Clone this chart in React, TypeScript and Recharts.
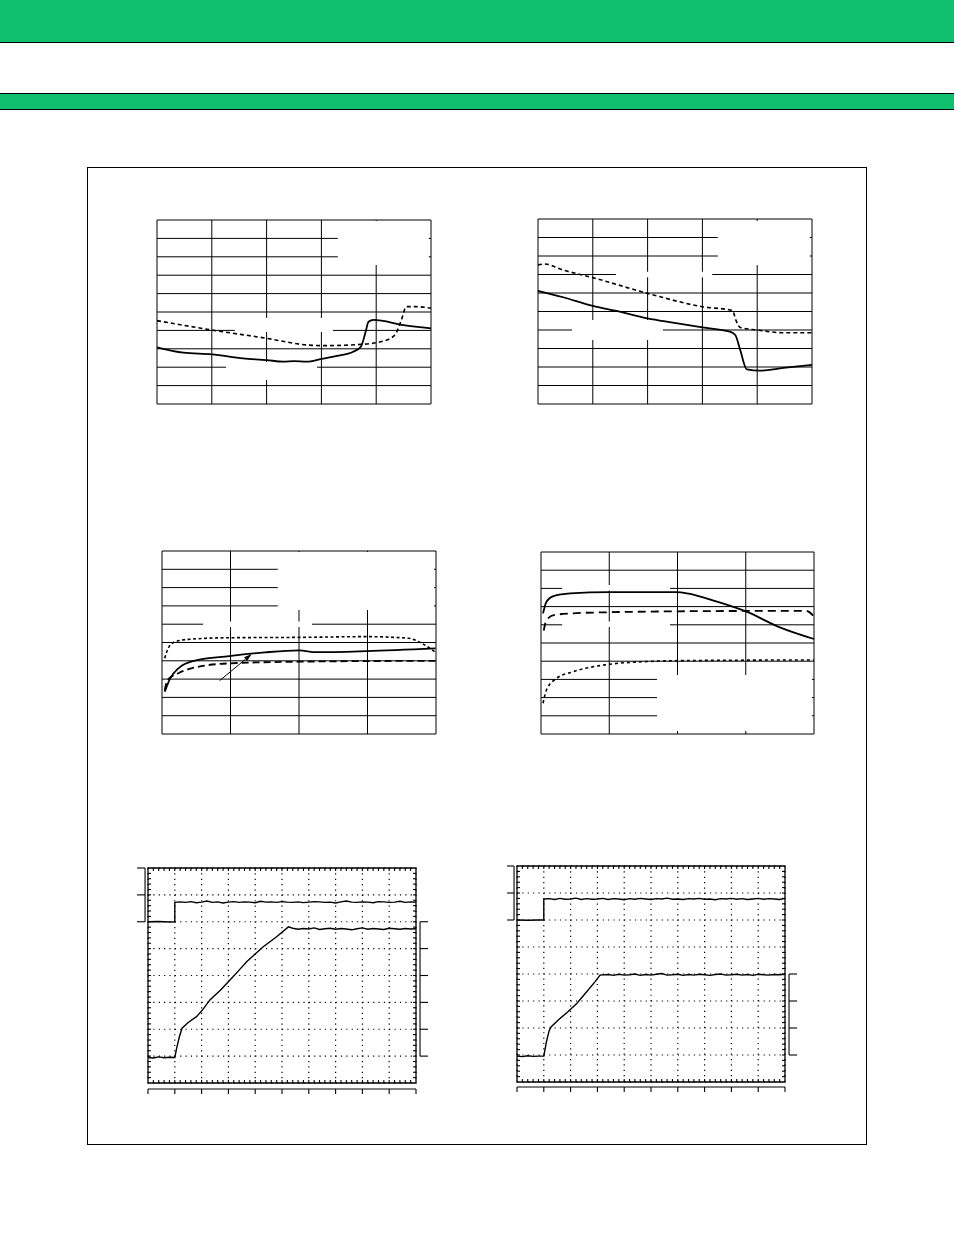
import React from 'react';
import { ComposedChart, Line, XAxis, YAxis, CartesianGrid, ReferenceArea, ReferenceLine } from 'recharts';

type Pt = { x: number; y: number };
const zip = (xs: number[], ys: number[]): Pt[] => xs.map((x, i) => ({ x, y: ys[i] }));
// scope samples are taken on a fixed 0.2 div clock
const sampled = (t0: number, values: number[]): Pt[] => values.map((y, i) => ({ x: t0 + i * 0.2, y }));

// ---- chart 1 (top left) ----
const c1SolidX = [0, 0.48, 1.0, 1.57, 2.0, 2.31, 2.5, 2.73, 3.0, 3.28, 3.58, 3.72, 3.8, 3.86, 3.95, 4.5, 5.0];
const c1SolidY = [3.08, 2.79, 2.7, 2.48, 2.39, 2.3, 2.33, 2.3, 2.45, 2.61, 2.84, 3.11, 3.84, 4.47, 4.57, 4.29, 4.11];
const c1DotX = [0, 1.0, 2.0, 2.73, 3.0, 3.72, 4.13, 4.34, 4.46, 4.55, 4.73, 5.0];
const c1DotY = [4.53, 4.02, 3.57, 3.21, 3.17, 3.24, 3.42, 3.75, 4.57, 5.29, 5.29, 5.2];

// ---- chart 2 (top right) ----
const c2SolidX = [0, 0.46, 1.0, 1.49, 2.0, 2.46, 3.0, 3.5, 3.6, 3.69, 3.81, 4.05, 4.48, 5.0];
const c2SolidY = [6.12, 5.77, 5.3, 4.99, 4.63, 4.4, 4.14, 3.91, 3.73, 2.92, 1.87, 1.8, 1.95, 2.11];
const c2DotX = [0, 0.12, 0.46, 1.0, 2.0, 3.0, 3.55, 3.61, 3.69, 4.0, 4.48, 5.0];
const c2DotY = [7.51, 7.57, 7.24, 6.83, 5.98, 5.26, 5.05, 4.54, 4.14, 4.0, 3.85, 3.85];

// ---- chart 3 (middle left) ----
const c3DotX = [0.04, 0.09, 0.19, 0.38, 0.98, 1.99, 2.99, 3.6, 3.79, 3.98];
const c3DotY = [4.14, 4.68, 5.04, 5.17, 5.26, 5.28, 5.32, 5.23, 4.96, 4.5];
const c3SolidX = [0.04, 0.12, 0.24, 0.48, 0.98, 1.5, 2.0, 2.25, 2.99, 3.99];
const c3SolidY = [2.31, 3.04, 3.59, 4.01, 4.26, 4.46, 4.57, 4.47, 4.53, 4.68];
const c3DashX = [0.04, 0.08, 0.24, 0.43, 0.98, 1.99, 3.99];
const c3DashY = [2.4, 2.95, 3.32, 3.59, 3.86, 3.95, 4.0];

// ---- chart 4 (middle right) ----
const c4SolidX = [0.03, 0.08, 0.18, 0.43, 1.0, 2.0, 2.14, 2.58, 3.01, 3.5, 4.0];
const c4SolidY = [6.63, 7.27, 7.58, 7.73, 7.79, 7.79, 7.73, 7.27, 6.72, 5.86, 5.22];
const c4DashX = [0.04, 0.08, 0.2, 0.47, 1.0, 2.0, 3.01, 3.89, 4.0];
const c4DashY = [5.68, 6.26, 6.54, 6.63, 6.69, 6.74, 6.76, 6.76, 6.45];
const c4DotX = [0.03, 0.08, 0.23, 0.47, 1.0, 1.5, 2.0, 4.0];
const c4DotY = [1.69, 2.42, 3.06, 3.42, 3.83, 3.97, 4.03, 4.07];

// ---- scope 1 (bottom left) ----
const s1Ch1Edge: Pt[] = [{ x: 0, y: 6.0 }, { x: 0.4, y: 6.01 }, { x: 0.8, y: 5.99 }, { x: 1.0, y: 6.0 }, { x: 1.0, y: 6.72 }];
const s1Ch1Flat = [
  6.74, 6.72, 6.75, 6.71, 6.73, 6.77, 6.72, 6.74, 6.7, 6.73, 6.75, 6.72, 6.74, 6.73, 6.71,
  6.76, 6.73, 6.74, 6.72, 6.75, 6.73, 6.72, 6.74, 6.71, 6.73, 6.75, 6.74, 6.72, 6.73, 6.7,
  6.74, 6.77, 6.73, 6.72, 6.74, 6.73, 6.71, 6.75, 6.74, 6.72, 6.73, 6.76, 6.72, 6.74, 6.73,
];
const s1Ch2Pre = [0.95, 0.93, 0.97, 0.94, 0.96, 0.95];
const s1Ch2Rise: Pt[] = [
  { x: 1.07, y: 1.3 }, { x: 1.17, y: 1.72 }, { x: 1.27, y: 2.04 }, { x: 1.5, y: 2.25 }, { x: 1.81, y: 2.47 },
  { x: 2.05, y: 2.74 }, { x: 2.31, y: 3.09 }, { x: 2.7, y: 3.45 }, { x: 3.06, y: 3.83 }, { x: 3.4, y: 4.2 },
  { x: 3.68, y: 4.51 }, { x: 4.0, y: 4.8 }, { x: 4.3, y: 5.07 }, { x: 4.8, y: 5.44 }, { x: 5.24, y: 5.81 },
];
const s1Ch2Flat = [
  5.76, 5.72, 5.75, 5.73, 5.77, 5.71, 5.74, 5.76, 5.72, 5.75, 5.73, 5.7,
  5.74, 5.77, 5.72, 5.75, 5.73, 5.71, 5.76, 5.74, 5.72, 5.75, 5.73, 5.74,
];

// ---- scope 2 (bottom right) ----
const s2Ch1Edge: Pt[] = [{ x: 0, y: 6.0 }, { x: 0.4, y: 5.99 }, { x: 0.8, y: 6.0 }, { x: 1.0, y: 6.0 }, { x: 1.0, y: 6.78 }];
const s2Ch1Flat = [
  6.79, 6.76, 6.8, 6.77, 6.78, 6.81, 6.76, 6.79, 6.77, 6.78, 6.8, 6.76, 6.79, 6.78, 6.75,
  6.79, 6.77, 6.8, 6.78, 6.76, 6.79, 6.78, 6.81, 6.77, 6.78, 6.76, 6.79, 6.78, 6.8, 6.77,
  6.78, 6.75, 6.79, 6.78, 6.8, 6.77, 6.79, 6.76, 6.78, 6.8, 6.77, 6.79, 6.78, 6.76, 6.8,
];
const s2Ch2Pre = [0.96, 0.94, 0.97, 0.95, 0.96, 0.96];
const s2Ch2Rise: Pt[] = [
  { x: 1.1, y: 1.5 }, { x: 1.2, y: 1.9 }, { x: 1.27, y: 2.04 }, { x: 1.54, y: 2.3 }, { x: 1.9, y: 2.6 },
  { x: 2.23, y: 2.91 }, { x: 2.6, y: 3.34 }, { x: 2.9, y: 3.7 }, { x: 3.1, y: 3.96 },
];
const s2Ch2Flat = [
  3.98, 3.95, 3.99, 3.96, 3.97, 4.0, 3.95, 3.98, 3.96, 3.99, 4.02, 3.96,
  3.97, 3.99, 3.95, 3.98, 3.96, 3.99, 3.97, 3.95, 3.98, 4.0, 3.96, 3.97,
  3.99, 3.96, 3.98, 3.95, 3.99, 3.97, 3.96, 3.98, 3.97, 3.99,
];

const GRID_Y = [0, 1, 2, 3, 4, 5, 6, 7, 8, 9, 10];
const X5 = [0, 1, 2, 3, 4, 5];
const X4 = [0, 1, 2, 3, 4];
const MAJOR_X = [0, 1, 2, 3, 4, 5, 6, 7, 8, 9, 10];
const MAJOR_Y = [0, 1, 2, 3, 4, 5, 6, 7, 8];
const MINOR_X = Array.from({ length: 49 }, (_, i) => (i + 1) * 0.2);
const MINOR_Y = Array.from({ length: 39 }, (_, i) => (i + 1) * 0.2);

type Series = { data: Pt[]; dash?: string; width: number };
type Hole = { x1: number; x2: number; y1: number; y2: number };
type Bracket = { x: number; from: number; to: number; ticks: number[]; tickTo: number };
type Seg = [Pt, Pt];

const Arrow = (props: any) => {
  const { x1, y1, x2, y2 } = props;
  const a = Math.atan2(y2 - y1, x2 - x1);
  const bx = x2 - 8 * Math.cos(a);
  const by = y2 - 8 * Math.sin(a);
  const p = `${x2},${y2} ${bx + 2.5 * Math.sin(a)},${by - 2.5 * Math.cos(a)} ${bx - 2.5 * Math.sin(a)},${by + 2.5 * Math.cos(a)}`;
  return (
    <g>
      <line x1={x1} y1={y1} x2={bx} y2={by} stroke="#000" strokeWidth={1} />
      <polygon points={p} fill="#000" />
    </g>
  );
};

const GridChart = ({ left, top, w, h, xTicks, series, holes, children }: {
  left: number; top: number; w: number; h: number; xTicks: number[]; series: Series[]; holes: Hole[]; children?: React.ReactNode;
}) => (
  <div style={{ position: 'absolute', left: left - 10, top: top - 10 }}>
    <ComposedChart width={w + 20} height={h + 20} margin={{ top: 10, right: 10, bottom: 10, left: 10 }}>
      <XAxis type="number" dataKey="x" domain={[0, xTicks[xTicks.length - 1]]} ticks={xTicks} interval={0} hide />
      <YAxis type="number" domain={[0, 10]} ticks={GRID_Y} interval={0} hide />
      <CartesianGrid stroke="#000" strokeWidth={1} />
      {holes.map((r, i) => (
        <ReferenceArea key={i} x1={r.x1} x2={r.x2} y1={r.y1} y2={r.y2} fill="#fff" fillOpacity={1} stroke="none" ifOverflow="visible" />
      ))}
      {series.map((s, i) => (
        <Line key={i} data={s.data} dataKey="y" type="monotone" stroke="#000" strokeWidth={s.width}
          strokeDasharray={s.dash} dot={false} isAnimationActive={false} />
      ))}
      {children}
    </ComposedChart>
  </div>
);

const ScopeChart = ({ left, top, w, h, gap, traces, brackets }: {
  left: number; top: number; w: number; h: number; gap: number; traces: Pt[][]; brackets: Bracket[];
}) => {
  const ux = 3 / (w / 10); // 3px minor tick in x units
  const uy = 3 / (h / 8);
  const axisY = -gap / (h / 8);
  const axisTick = axisY - 5 / (h / 8);
  const segs: Seg[] = [
    ...MINOR_X.map((t): Seg => [{ x: t, y: 0 }, { x: t, y: uy }]),
    ...MINOR_X.map((t): Seg => [{ x: t, y: 8 }, { x: t, y: 8 - uy }]),
    ...MINOR_Y.map((t): Seg => [{ x: 0, y: t }, { x: ux, y: t }]),
    ...MINOR_Y.map((t): Seg => [{ x: 10, y: t }, { x: 10 - ux, y: t }]),
    [{ x: 0, y: axisY }, { x: 10, y: axisY }],
    ...MAJOR_X.map((t): Seg => [{ x: t, y: axisY }, { x: t, y: axisTick }]),
  ];
  brackets.forEach((b) => {
    segs.push([{ x: b.x, y: b.from }, { x: b.x, y: b.to }]);
    b.ticks.forEach((t) => segs.push([{ x: b.x, y: t }, { x: b.tickTo, y: t }]));
  });
  return (
    <div style={{ position: 'absolute', left: left - 20, top: top - 10 }}>
      <ComposedChart width={w + 40} height={h + 26} margin={{ top: 10, right: 20, bottom: 16, left: 20 }}>
        <XAxis type="number" dataKey="x" domain={[0, 10]} ticks={MAJOR_X} interval={0} hide />
        <YAxis type="number" domain={[0, 8]} ticks={MAJOR_Y} interval={0} hide />
        <CartesianGrid stroke="#000" strokeWidth={1.2} strokeDasharray="1.2 4.16" />
        <ReferenceArea x1={0} x2={10} y1={0} y2={8} fill="none" stroke="#000" strokeWidth={1.3} ifOverflow="visible" />
        {segs.map((s, i) => (
          <ReferenceLine key={i} segment={s} ifOverflow="visible" stroke="#000" strokeWidth={1.1} />
        ))}
        {traces.map((t, i) => (
          <Line key={i} data={t} dataKey="y" type="linear" stroke="#000"
            strokeWidth={1.4} dot={false} isAnimationActive={false} />
        ))}
      </ComposedChart>
    </div>
  );
};

const solid = (data: Pt[]): Series => ({ data, width: 1.8 });

export default function App() {
  return (
    <div style={{ position: 'absolute', left: 0, top: 0, width: 954, height: 1235, background: '#fff', overflow: 'hidden' }}>
      <div style={{ position: 'absolute', left: 0, top: 0, width: 954, height: 42, background: '#10c06e', borderBottom: '1px solid #000' }} />
      <div style={{ position: 'absolute', left: 0, top: 93, width: 954, height: 15, background: '#10c06e', borderTop: '1px solid #000', borderBottom: '1px solid #000' }} />
      <div style={{ position: 'absolute', left: 87, top: 167, width: 778, height: 976, border: '1px solid #000' }} />

      <GridChart left={157} top={220} w={274} h={184} xTicks={X5}
        series={[solid(zip(c1SolidX, c1SolidY)), { data: zip(c1DotX, c1DotY), dash: '4 3', width: 1.6 }]}
        holes={[
          { x1: 3.3, x2: 4.96, y1: 7.55, y2: 9.95 },
          { x1: 1.42, x2: 3.21, y1: 3.91, y2: 4.67 },
          { x1: 1.26, x2: 2.92, y1: 1.3, y2: 2.28 },
        ]} />
      <GridChart left={538} top={219} w={274} h={185} xTicks={X5}
        series={[solid(zip(c2SolidX, c2SolidY)), { data: zip(c2DotX, c2DotY), dash: '4 3', width: 1.6 }]}
        holes={[
          { x1: 3.28, x2: 4.96, y1: 7.51, y2: 9.89 },
          { x1: 1.42, x2: 3.18, y1: 6.85, y2: 7.15 },
          { x1: 0.62, x2: 2.28, y1: 3.46, y2: 4.54 },
        ]} />
      <GridChart left={162} top={551} w={274} h={183} xTicks={X4}
        series={[
          { data: zip(c3DotX, c3DotY), dash: '3 2.5', width: 1.6 },
          solid(zip(c3SolidX, c3SolidY)),
          { data: zip(c3DashX, c3DashY), dash: '7 4', width: 1.8 },
        ]}
        holes={[
          { x1: 1.69, x2: 3.97, y1: 6.78, y2: 9.95 },
          { x1: 0.6, x2: 2.19, y1: 5.85, y2: 6.15 },
        ]}>
        <ReferenceLine segment={[{ x: 0.84, y: 2.91 }, { x: 1.31, y: 4.37 }]} ifOverflow="visible" shape={Arrow} />
      </GridChart>
      <GridChart left={541} top={552} w={273} h={182} xTicks={X4}
        series={[
          solid(zip(c4SolidX, c4SolidY)),
          { data: zip(c4DashX, c4DashY), dash: '8 5', width: 1.8 },
          { data: zip(c4DotX, c4DotY), dash: '3 3', width: 1.6 },
        ]}
        holes={[
          { x1: 0.31, x2: 1.89, y1: 7.89, y2: 8.19 },
          { x1: 0.31, x2: 1.89, y1: 5.88, y2: 6.18 },
          { x1: 1.7, x2: 3.97, y1: 0.16, y2: 3.24 },
        ]} />

      <ScopeChart left={148} top={868} w={268} h={215} gap={6}
        traces={[
          [...s1Ch1Edge, ...sampled(1.2, s1Ch1Flat)],
          [...sampled(0, s1Ch2Pre), ...s1Ch2Rise, ...sampled(5.4, s1Ch2Flat)],
        ]}
        brackets={[
          { x: -0.11, from: 6, to: 8, ticks: [6, 7, 8], tickTo: -0.41 },
          { x: 10.15, from: 1, to: 6, ticks: [1, 2, 3, 4, 5, 6], tickTo: 10.45 },
        ]} />
      <ScopeChart left={517} top={866} w={268} h={216} gap={5}
        traces={[
          [...s2Ch1Edge, ...sampled(1.2, s2Ch1Flat)],
          [...sampled(0, s2Ch2Pre), ...s2Ch2Rise, ...sampled(3.4, s2Ch2Flat)],
        ]}
        brackets={[
          { x: -0.11, from: 6, to: 8, ticks: [6, 7, 8], tickTo: -0.37 },
          { x: 10.15, from: 1, to: 4, ticks: [1, 2, 3, 4], tickTo: 10.45 },
        ]} />
    </div>
  );
}
